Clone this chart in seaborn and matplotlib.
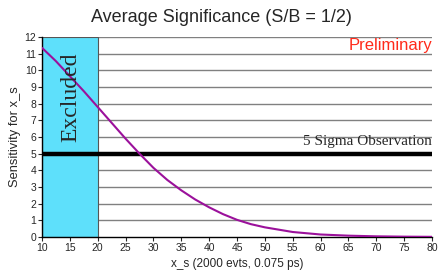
import matplotlib
matplotlib.use("Agg")
import matplotlib.pyplot as plt
import seaborn as sns
import pandas as pd

# data
x_s = [10, 12.5, 15, 17.5, 20, 22.5, 25, 27.5, 30, 32.5, 35, 37.5, 40, 42.5, 45,
       47.5, 50, 55, 60, 65, 70, 75, 80]
sensitivity = [11.35, 10.55, 9.65, 8.75, 7.8, 6.85, 5.9, 5.0, 4.15, 3.42, 2.8, 2.25,
               1.78, 1.37, 1.03, 0.77, 0.58, 0.3, 0.15, 0.08, 0.04, 0.02, 0.01]
excluded_range = [10, 20]
sigma_level = 5
x_ticks = list(range(10, 81, 5))
y_ticks = list(range(0, 13))

sns.set_theme(style="white")
plt.rcParams['font.family'] = ['Liberation Sans', 'DejaVu Sans']

fig = plt.figure(figsize=(4.42, 2.77), dpi=100)
ax = fig.add_axes([42/442, 1-237/277, 390/442, 200/277])

df = pd.DataFrame({"x": x_s, "y": sensitivity})

for yv in y_ticks[1:]:
    ax.axhline(yv, color="#808080", lw=1.0, zorder=1)

ax.axvspan(excluded_range[0], excluded_range[1], facecolor="#5ee0fb",
           edgecolor="#555555", lw=0.8, zorder=2)
ax.axhline(sigma_level, color="black", lw=3.2, zorder=3)

sns.lineplot(data=df, x="x", y="y", ax=ax, color="#9b119b", lw=1.5, zorder=4)

ax.set_xlim(10, 80)
ax.set_ylim(0, 12)
ax.set_xticks(x_ticks)
ax.set_yticks(y_ticks)
ax.tick_params(axis="both", labelsize=7.5, length=3, width=0.8, pad=1,
               direction="out", bottom=True, left=True)
for s in ["top", "right"]:
    ax.spines[s].set_visible(False)
for s in ["left", "bottom"]:
    ax.spines[s].set_color("black")
    ax.spines[s].set_linewidth(1.0)

ax.set_xlabel("x_s (2000 evts, 0.075 ps)", fontsize=8.5, labelpad=4)
ax.set_ylabel("Sensitivity for x_s", fontsize=9.3, labelpad=3)

fig.text(0.5, 1-17/277, "Average Significance (S/B = 1/2)", ha="center",
         va="center", fontsize=13)

ax.text(15.2, 8.4, "Excluded", rotation=90, ha="center", va="center",
        family=["Liberation Serif", "DejaVu Serif"], fontsize=17, zorder=5)
ax.text(80, 5.35, "5 Sigma Observation", ha="right", va="bottom",
        family=["Liberation Serif", "DejaVu Serif"], fontsize=11, zorder=5)
ax.text(80, 11.5, "Preliminary", ha="right", va="center", color="#ff2a1a",
        fontsize=12, zorder=5)

fig.savefig("out.png", dpi=100)
